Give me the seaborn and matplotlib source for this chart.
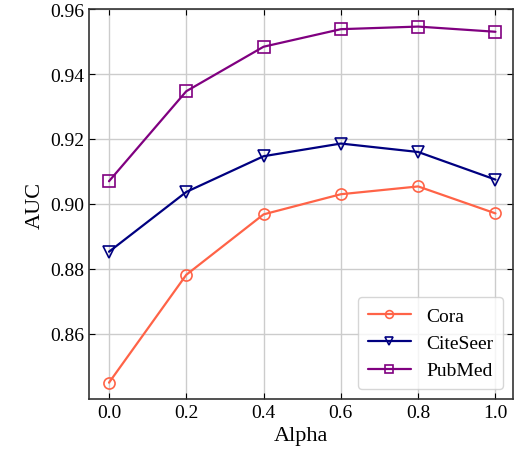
import matplotlib
matplotlib.use('Agg')
import matplotlib.pyplot as plt
import seaborn as sns

alphas   = [0.0, 0.2, 0.4, 0.6, 0.8, 1.0]
cora     = [0.8450, 0.8782, 0.8968, 0.9030, 0.9054, 0.8971]
citeseer = [0.8853, 0.9037, 0.9147, 0.9186, 0.9160, 0.9075]
pubmed   = [0.9070, 0.9347, 0.9484, 0.9538, 0.9546, 0.9530]

names   = ['Cora', 'CiteSeer', 'PubMed']
colors  = ['#FF6347', '#000080', '#800080']
markers = ['o', 'v', 's']

sns.set_style('ticks')
plt.rcParams['font.family'] = ['Liberation Serif', 'DejaVu Serif']
plt.rcParams['text.color'] = 'black'
plt.rcParams['axes.labelcolor'] = 'black'
plt.rcParams['xtick.color'] = 'black'
plt.rcParams['ytick.color'] = 'black'

fig = plt.figure(figsize=(5.26, 4.56), dpi=100)
ax = fig.add_axes([0.169, 0.123, 0.806, 0.855])

for name, vals, c, m in zip(names, [cora, citeseer, pubmed], colors, markers):
    sns.lineplot(x=alphas, y=vals, ax=ax, color=c, marker=m, label=name,
                 linewidth=1.6, markersize=8, markerfacecolor='none',
                 markeredgecolor=c, markeredgewidth=1.2)

ax.set_xlim(-0.052, 1.045)
ax.set_ylim(0.84, 0.96)
ax.set_xticks(alphas)
ax.set_yticks([0.86, 0.88, 0.90, 0.92, 0.94, 0.96])
ax.grid(True, color='#cccccc', linewidth=1.0)
ax.set_axisbelow(True)
ax.tick_params(direction='in', top=True, right=True, labelsize=14, length=4)
for sp in ax.spines.values():
    sp.set_color('#333333')
    sp.set_linewidth(1.2)

ax.set_xlabel('Alpha', fontsize=16)
ax.set_ylabel('AUC', fontsize=16)
ax.legend(loc='lower right', fontsize=14, frameon=True, fancybox=True,
          edgecolor='#cccccc', handlelength=2.2, borderpad=0.5,
          markerscale=0.7)

fig.savefig('out.png', dpi=100)
